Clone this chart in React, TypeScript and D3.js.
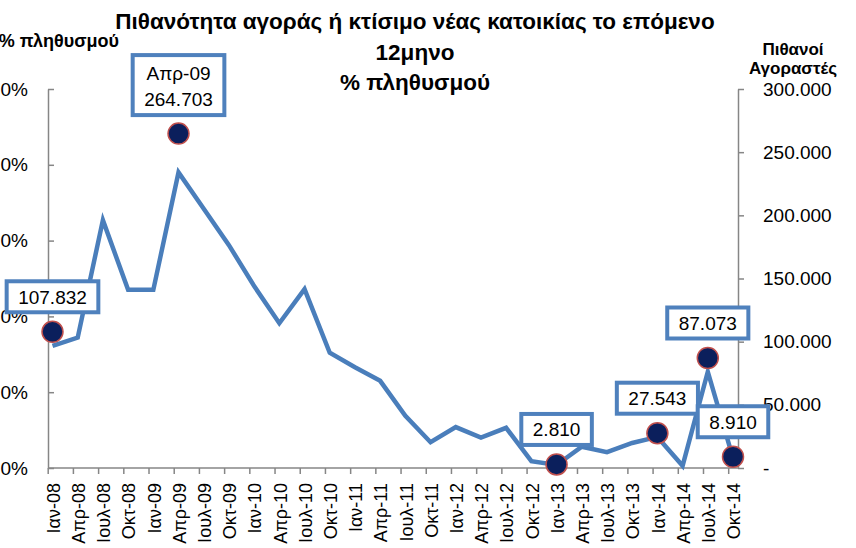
import React, { useEffect, useRef } from 'react'
import * as d3 from 'd3'

// quarterly categories, Jan-08 .. Oct-14
const categories = [
  'Ιαν-08', 'Απρ-08', 'Ιουλ-08', 'Οκτ-08',
  'Ιαν-09', 'Απρ-09', 'Ιουλ-09', 'Οκτ-09',
  'Ιαν-10', 'Απρ-10', 'Ιουλ-10', 'Οκτ-10',
  'Ιαν-11', 'Απρ-11', 'Ιουλ-11', 'Οκτ-11',
  'Ιαν-12', 'Απρ-12', 'Ιουλ-12', 'Οκτ-12',
  'Ιαν-13', 'Απρ-13', 'Ιουλ-13', 'Οκτ-13',
  'Ιαν-14', 'Απρ-14', 'Ιουλ-14', 'Οκτ-14',
]

// % of population (left axis)
const sharePct = [
  1.61, 1.72, 3.27, 2.35, 2.35, 3.9, 3.42, 2.94,
  2.4, 1.91, 2.36, 1.52, 1.33, 1.15, 0.69, 0.34,
  0.54, 0.4, 0.53, 0.09, 0.04, 0.28, 0.21, 0.33,
  0.41, 0.03, 1.27, 0.13,
]

// potential buyers (right axis), highlighted points only
const buyerCats = ['Ιαν-08', 'Απρ-09', 'Ιαν-13', 'Ιαν-14', 'Ιουλ-14', 'Οκτ-14']
const buyerValues = [107832, 264703, 2810, 27543, 87073, 8910]
const buyerShowCat = [false, true, false, false, false, false]

const leftTicks = [0, 1, 2, 3, 4, 5]
const rightTicks = [0, 50000, 100000, 150000, 200000, 250000, 300000]

const titleLines = ['Πιθανότητα αγοράς ή κτίσιμο νέας κατοικίας το επόμενο', '12μηνο', '% πληθυσμού']
const leftTitle = '% πληθυσμού'
const rightTitle = ['Πιθανοί', 'Αγοραστές']

const FONT = "'Liberation Sans', Arial, sans-serif"
const BLUE = '#4a7ebb'
const AXIS = '#868686'

const gr = d3.formatLocale({ decimal: ',', thousands: '.', grouping: [3], currency: ['', '€'] })
const fmtPct = gr.format('.1f')
const fmtNum = gr.format(',')

function textWidth(s: string, size: number) {
  const ctx = document.createElement('canvas').getContext('2d')!
  ctx.font = `${size}px ${FONT}`
  return ctx.measureText(s).width
}

export default function App() {
  const ref = useRef<SVGSVGElement>(null)

  useEffect(() => {
    const svg = d3.select(ref.current)
    svg.selectAll('*').remove()

    const left = 48, right = 738, bottom = 468, top = 89

    const x = d3.scalePoint<string>().domain(categories).range([52.5, 733])
    const yL = d3.scaleLinear().domain([0, 5]).range([bottom, top])
    const yR = d3.scaleLinear().domain([0, 300000]).range([bottom, top])

    // title
    svg.append('text')
      .attr('text-anchor', 'middle')
      .style('font-family', FONT).style('font-weight', 'bold').style('font-size', '22.5px')
      .selectAll('tspan').data(titleLines).join('tspan')
      .attr('x', 415).attr('y', (d, i) => 29 + i * 30.5)
      .text(d => d)

    svg.append('text')
      .attr('x', 119).attr('y', 47).attr('text-anchor', 'end')
      .style('font-family', FONT).style('font-weight', 'bold').style('font-size', '18px')
      .text(leftTitle)

    svg.append('g').selectAll('text').data(rightTitle).join('text')
      .attr('x', 793).attr('y', (d, i) => 55 + i * 19)
      .attr('text-anchor', 'middle')
      .style('font-family', FONT).style('font-weight', 'bold').style('font-size', '17px')
      .text(d => d)

    // left axis (labels run off the left edge, as in the original)
    const gl = svg.append('g').attr('transform', `translate(${left},0)`)
      .call(d3.axisLeft(yL).tickValues(leftTicks).tickSizeInner(-6).tickSizeOuter(0).tickPadding(20).tickFormat(d => fmtPct(+d) + '%'))
    // right axis
    const gr2 = svg.append('g').attr('transform', `translate(${right},0)`)
      .call(d3.axisRight(yR).tickValues(rightTicks).tickSizeInner(6).tickSizeOuter(0).tickPadding(19).tickFormat(d => (+d === 0 ? '-' : fmtNum(+d))))
    for (const g of [gl, gr2]) {
      g.select('.domain').attr('stroke', AXIS).attr('stroke-width', 1.5)
      g.selectAll('.tick line').attr('stroke', AXIS).attr('stroke-width', 1.5)
      g.selectAll('.tick text').style('font-family', FONT).style('font-size', '19px').attr('fill', '#000')
    }

    // bottom axis
    const gb = svg.append('g')
    gb.append('line').attr('x1', left).attr('x2', right).attr('y1', bottom).attr('y2', bottom)
      .attr('stroke', AXIS).attr('stroke-width', 1.5)
    gb.selectAll('line.tk').data(categories).join('line').attr('class', 'tk')
      .attr('x1', d => x(d)! - 4.3).attr('x2', d => x(d)! - 4.3)
      .attr('y1', bottom).attr('y2', bottom + 6)
      .attr('stroke', AXIS).attr('stroke-width', 1.5)
    gb.selectAll('text').data(categories).join('text')
      .attr('transform', d => `translate(${x(d)! + 1},483) rotate(-90)`)
      .attr('text-anchor', 'end').attr('dy', '0.35em')
      .style('font-family', FONT).style('font-size', '18px')
      .text(d => d)

    // share line
    const line = d3.line<number>().x((d, i) => x(categories[i])!).y(d => yL(d))
    svg.append('path').datum(sharePct)
      .attr('fill', 'none').attr('stroke', BLUE).attr('stroke-width', 4.5)
      .attr('stroke-linejoin', 'miter').attr('stroke-miterlimit', 4)
      .attr('d', line)

    // buyer points
    svg.append('g').selectAll('circle').data(buyerValues).join('circle')
      .attr('cx', (d, i) => x(buyerCats[i])!).attr('cy', d => yR(d))
      .attr('r', 10.5).attr('fill', '#0b1f5c').attr('stroke', '#c0504d').attr('stroke-width', 1.5)

    // callouts
    buyerValues.forEach((v, i) => {
      const px = x(buyerCats[i])!, py = yR(v)
      const lines = buyerShowCat[i] ? [buyerCats[i], fmtNum(v)] : [fmtNum(v)]
      const w = d3.max(lines, s => textWidth(s, 19))! + 23
      const h = lines.length === 1 ? 31 : 60
      const cy = lines.length === 1 ? py - 35 : py - 48.5
      const g = svg.append('g')
      g.append('rect')
        .attr('x', px - w / 2).attr('y', cy - h / 2).attr('width', w).attr('height', h)
        .attr('fill', '#fff').attr('stroke', '#4f81bd').attr('stroke-width', 4)
      g.selectAll('text').data(lines).join('text')
        .attr('x', px)
        .attr('y', (d, j) => lines.length === 1 ? cy + 7 : cy - 5.5 + j * 26)
        .attr('text-anchor', 'middle')
        .style('font-family', FONT).style('font-size', '19px')
        .text(d => d)
    })
  }, [])

  return (
    <div style={{ position: 'absolute', left: 0, top: 0 }}>
      <svg ref={ref} width={856} height={548} style={{ display: 'block', background: '#fff' }} />
    </div>
  )
}
